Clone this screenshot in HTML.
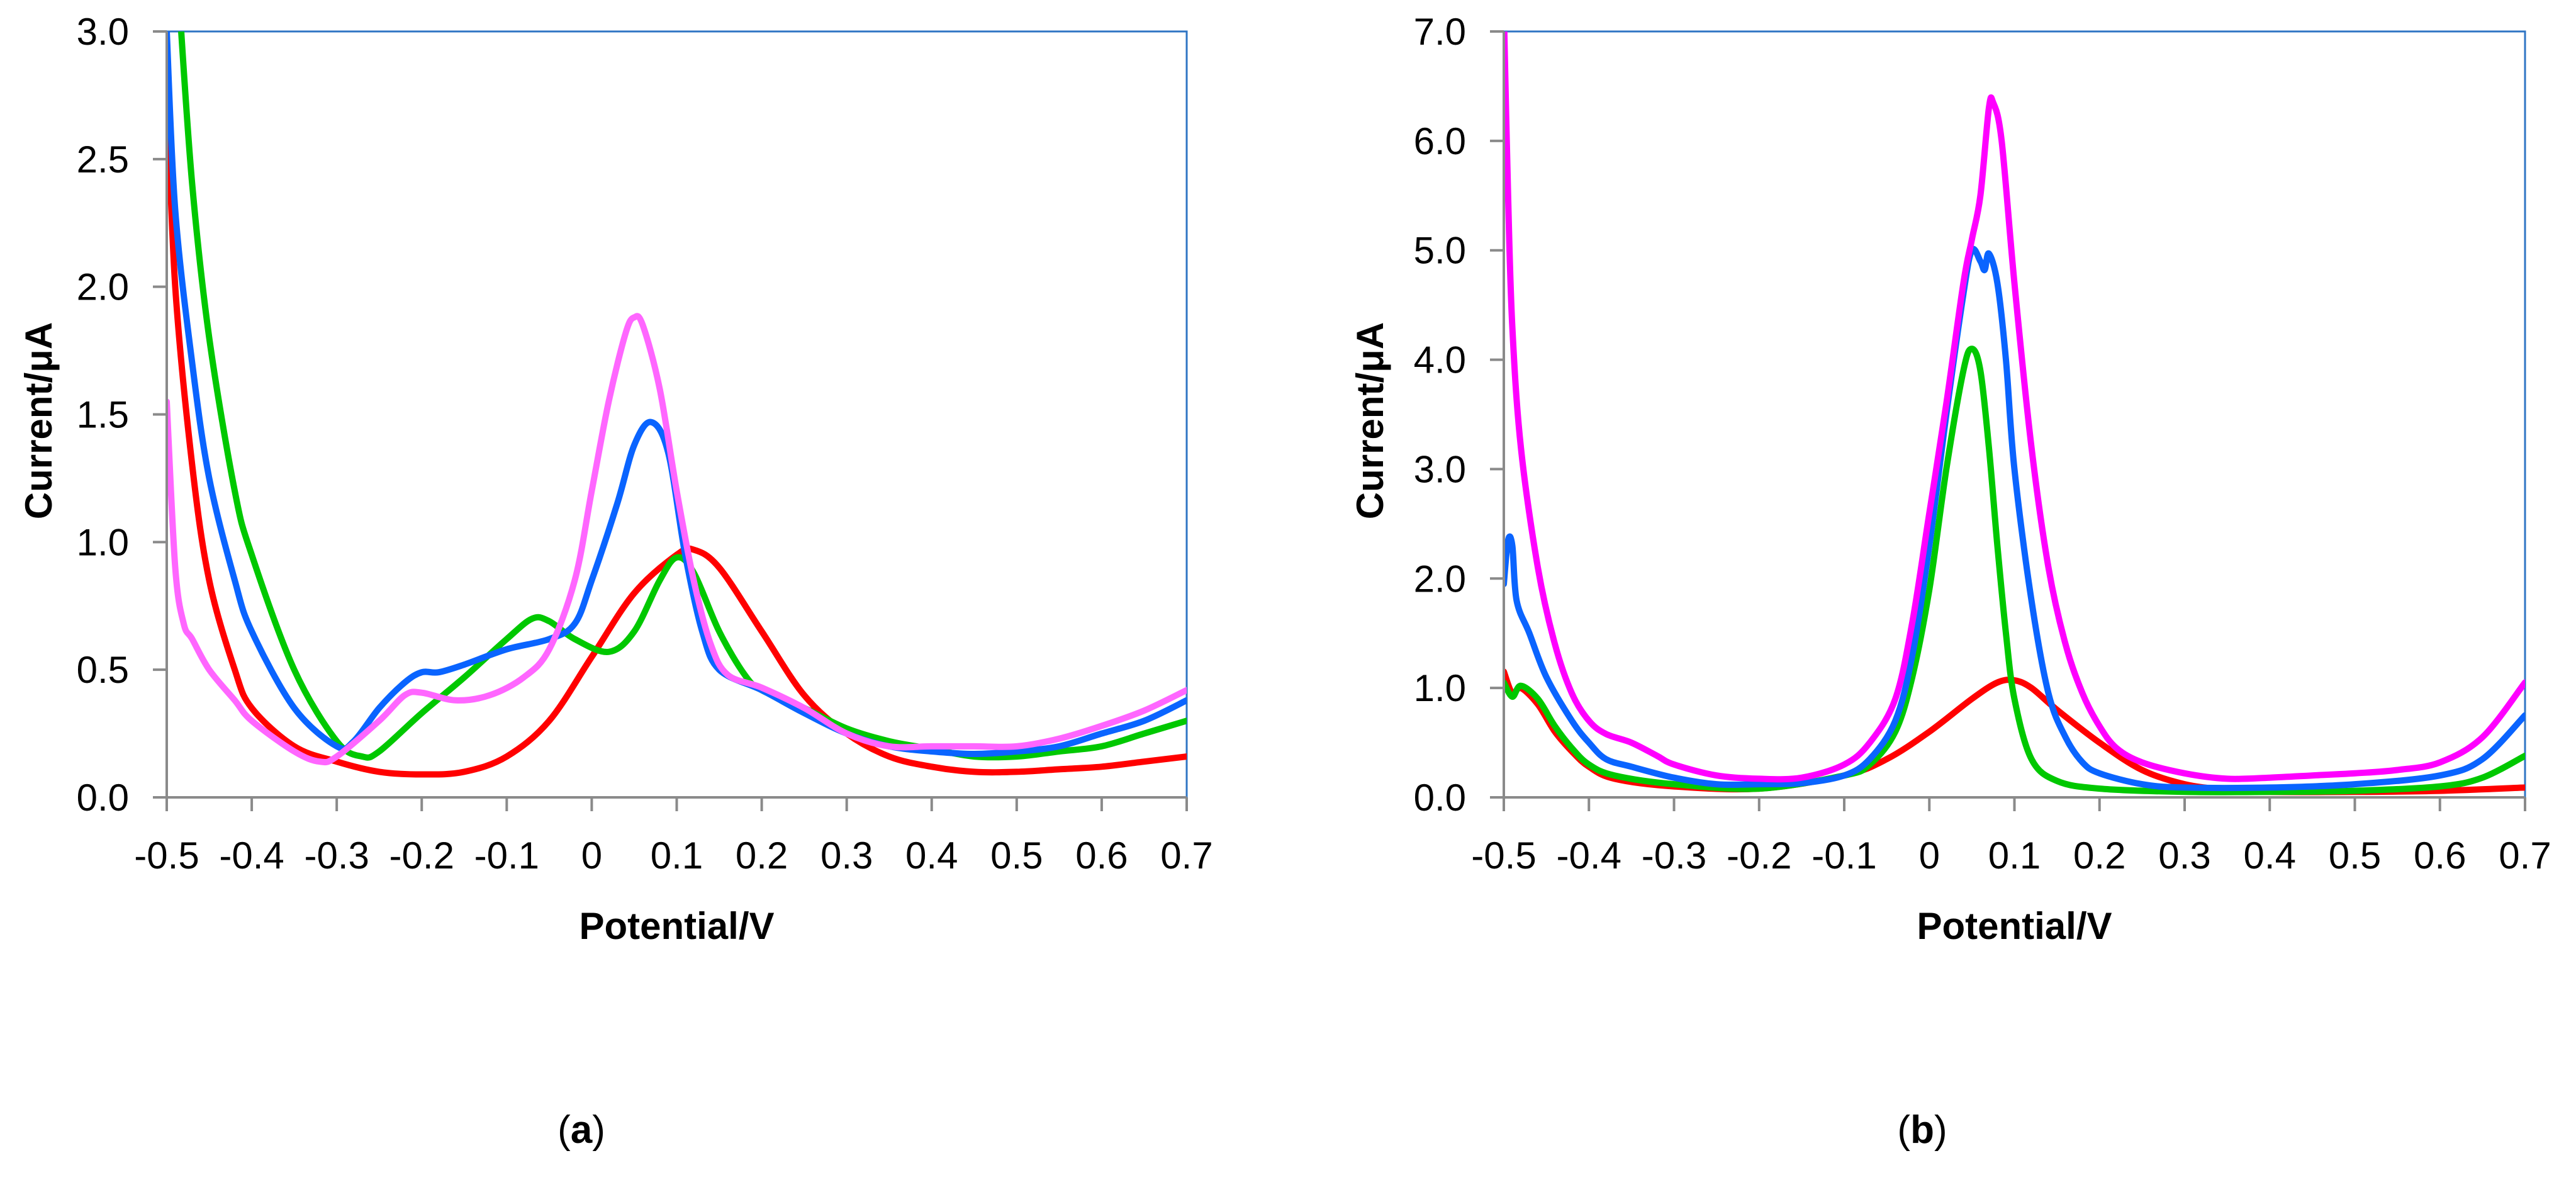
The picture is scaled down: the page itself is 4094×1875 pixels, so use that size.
<!DOCTYPE html>
<html><head><meta charset="utf-8"><style>
html,body{margin:0;padding:0;background:#fff;}
svg{display:block;}
text{font-family:"Liberation Sans",sans-serif;}
</style></head><body>
<svg id="fig" width="4094" height="1875" viewBox="0 0 4094 1875" xmlns="http://www.w3.org/2000/svg">
<defs>
<clipPath id="clipA"><rect x="265" y="50" width="1621" height="1217"/></clipPath>
<clipPath id="clipB"><rect x="2390" y="50" width="1623" height="1217"/></clipPath>
</defs>
<g id="chartA"></g>
<g id="chartB"></g>
<text x="924" y="1816" font-family="Liberation Serif" font-size="62" text-anchor="middle">(<tspan font-weight="bold">a</tspan>)</text>
<text x="3055" y="1816" font-family="Liberation Serif" font-size="62" text-anchor="middle">(<tspan font-weight="bold">b</tspan>)</text>
</svg>
<script>
const xTicks = [-0.5,-0.4,-0.3,-0.2,-0.1,0,0.1,0.2,0.3,0.4,0.5,0.6,0.7];
const xTickLabels = ["-0.5","-0.4","-0.3","-0.2","-0.1","0","0.1","0.2","0.3","0.4","0.5","0.6","0.7"];
const yTicksA = [0,0.5,1.0,1.5,2.0,2.5,3.0];
const yTickLabelsA = ["0.0","0.5","1.0","1.5","2.0","2.5","3.0"];
const yTicksB = [0,1,2,3,4,5,6,7];
const yTickLabelsB = ["0.0","1.0","2.0","3.0","4.0","5.0","6.0","7.0"];

const aRedX = [-0.5,-0.49,-0.47,-0.45,-0.42,-0.4,-0.35,-0.3,-0.25,-0.2,-0.15,-0.1,-0.05,0,0.05,0.1,0.12,0.15,0.2,0.25,0.3,0.35,0.4,0.45,0.5,0.55,0.6,0.65,0.7];
const aRedY = [2.8,2.0,1.3,0.85,0.5,0.35,0.2,0.14,0.1,0.09,0.1,0.16,0.3,0.55,0.8,0.95,0.97,0.9,0.65,0.4,0.25,0.16,0.12,0.1,0.1,0.11,0.12,0.14,0.16];
const aBlueX = [-0.5,-0.49,-0.47,-0.45,-0.42,-0.4,-0.35,-0.3,-0.28,-0.25,-0.22,-0.2,-0.18,-0.15,-0.1,-0.05,-0.02,0,0.03,0.05,0.07,0.09,0.11,0.13,0.15,0.2,0.25,0.3,0.35,0.4,0.45,0.5,0.55,0.6,0.65,0.7];
const aBlueY = [3.0,2.3,1.7,1.25,0.85,0.65,0.35,0.2,0.22,0.35,0.45,0.49,0.49,0.52,0.58,0.62,0.68,0.85,1.15,1.38,1.47,1.35,0.95,0.65,0.5,0.42,0.33,0.25,0.2,0.18,0.17,0.18,0.2,0.25,0.3,0.38];
const aGreenX = [-0.485,-0.47,-0.45,-0.42,-0.4,-0.35,-0.3,-0.27,-0.25,-0.2,-0.15,-0.1,-0.07,-0.05,-0.02,0.02,0.05,0.08,0.1,0.12,0.15,0.18,0.2,0.25,0.3,0.35,0.4,0.45,0.5,0.55,0.6,0.65,0.7];
const aGreenY = [3.1,2.4,1.8,1.2,0.95,0.5,0.22,0.16,0.18,0.33,0.47,0.62,0.7,0.69,0.62,0.57,0.65,0.85,0.94,0.88,0.65,0.48,0.42,0.35,0.27,0.22,0.19,0.16,0.16,0.18,0.2,0.25,0.3];
const aPinkX = [-0.5,-0.49,-0.48,-0.47,-0.45,-0.42,-0.4,-0.35,-0.32,-0.3,-0.25,-0.22,-0.2,-0.16,-0.12,-0.08,-0.05,-0.02,0,0.02,0.04,0.05,0.06,0.08,0.1,0.12,0.14,0.16,0.2,0.25,0.3,0.35,0.4,0.45,0.5,0.55,0.6,0.65,0.7];
const aPinkY = [1.55,0.9,0.68,0.62,0.5,0.38,0.3,0.18,0.14,0.16,0.3,0.4,0.41,0.38,0.4,0.47,0.58,0.85,1.2,1.55,1.82,1.88,1.85,1.6,1.2,0.85,0.6,0.48,0.43,0.35,0.25,0.2,0.2,0.2,0.2,0.23,0.28,0.34,0.42];

const bMagX = [-0.5,-0.495,-0.49,-0.48,-0.46,-0.44,-0.42,-0.4,-0.38,-0.35,-0.32,-0.3,-0.25,-0.2,-0.15,-0.1,-0.07,-0.04,-0.02,0,0.02,0.04,0.05,0.06,0.07,0.075,0.085,0.1,0.12,0.14,0.16,0.18,0.2,0.22,0.25,0.3,0.35,0.4,0.45,0.5,0.55,0.6,0.65,0.7];
const bMagY = [7.2,5.5,4.3,3.2,2.1,1.4,0.95,0.7,0.58,0.5,0.38,0.3,0.2,0.17,0.18,0.3,0.5,0.9,1.6,2.6,3.6,4.7,5.1,5.5,6.3,6.35,6.0,4.7,3.2,2.1,1.4,0.95,0.65,0.45,0.32,0.22,0.17,0.18,0.2,0.22,0.25,0.32,0.55,1.05];
const bBlueX = [-0.5,-0.495,-0.49,-0.485,-0.47,-0.45,-0.42,-0.4,-0.38,-0.35,-0.3,-0.25,-0.2,-0.15,-0.1,-0.07,-0.04,-0.02,0,0.02,0.04,0.05,0.06,0.065,0.07,0.08,0.09,0.1,0.12,0.14,0.16,0.18,0.2,0.25,0.3,0.4,0.5,0.6,0.65,0.7];
const bBlueY = [1.95,2.35,2.3,1.8,1.5,1.1,0.7,0.5,0.35,0.28,0.18,0.12,0.12,0.13,0.2,0.35,0.7,1.3,2.3,3.5,4.6,5.0,4.9,4.82,4.97,4.7,4.0,3.0,1.8,0.95,0.55,0.32,0.22,0.12,0.09,0.09,0.12,0.2,0.35,0.75];
const bGreenX = [-0.5,-0.49,-0.48,-0.46,-0.44,-0.42,-0.4,-0.37,-0.3,-0.2,-0.1,-0.07,-0.04,-0.02,0,0.02,0.04,0.05,0.06,0.07,0.08,0.09,0.1,0.12,0.15,0.2,0.3,0.4,0.5,0.6,0.65,0.7];
const bGreenY = [1.05,0.92,1.02,0.9,0.65,0.45,0.3,0.2,0.12,0.08,0.2,0.3,0.6,1.1,1.9,3.0,3.9,4.1,3.9,3.2,2.3,1.5,0.9,0.35,0.15,0.08,0.05,0.05,0.06,0.1,0.18,0.38];
const bRedX = [-0.5,-0.49,-0.48,-0.46,-0.44,-0.42,-0.4,-0.37,-0.3,-0.2,-0.1,-0.05,0,0.05,0.08,0.1,0.12,0.15,0.2,0.25,0.3,0.35,0.4,0.5,0.6,0.7];
const bRedY = [1.15,0.95,1.0,0.85,0.6,0.42,0.28,0.17,0.1,0.08,0.2,0.35,0.6,0.9,1.05,1.07,1.0,0.8,0.5,0.25,0.12,0.07,0.05,0.05,0.06,0.09];

const NS = "http://www.w3.org/2000/svg";
function mk(parent, tag, attrs){const e=document.createElementNS(NS,tag);for(const k in attrs)e.setAttribute(k,attrs[k]);parent.appendChild(e);return e;}

function smoothPath(pts){
  let d="M"+pts[0][0].toFixed(1)+","+pts[0][1].toFixed(1);
  for(let i=0;i<pts.length-1;i++){
    const p0=pts[Math.max(i-1,0)],p1=pts[i],p2=pts[i+1],p3=pts[Math.min(i+2,pts.length-1)];
    const c1=[p1[0]+(p2[0]-p0[0])/6,p1[1]+(p2[1]-p0[1])/6];
    const c2=[p2[0]-(p3[0]-p1[0])/6,p2[1]-(p3[1]-p1[1])/6];
    d+=" C"+c1[0].toFixed(1)+","+c1[1].toFixed(1)+" "+c2[0].toFixed(1)+","+c2[1].toFixed(1)+" "+p2[0].toFixed(1)+","+p2[1].toFixed(1);
  }
  return d;
}

function drawChart(g, L, R, T, B, yMax, yTicks, yLabels, series, clipId, titleX){
  const sx=v=>L+(v+0.5)/1.2*(R-L);
  const sy=v=>B-v/yMax*(B-T);
  const frame=mk(g,"path",{d:`M${L},${T} H${R} V${B}`,fill:"none",stroke:"#2f75c4","stroke-width":3});
  
  
  const sg=mk(g,"g",{"clip-path":`url(#${clipId})`});
  
  
  series.forEach(s=>{
    const pts=s.x.map((xv,i)=>[sx(xv),sy(s.y[i])]);
    const p=mk(sg,"path",{d:smoothPath(pts),fill:"none",stroke:s.color,"stroke-width":10,"stroke-linejoin":"round","stroke-linecap":"round"});
    
    
  });
  const ax=mk(g,"path",{d:`M${L},${T} V${B} H${R}`,fill:"none",stroke:"#8a8a8a","stroke-width":4});
  
  
  yTicks.forEach((v,i)=>{
    const y=sy(v);
    const t=mk(g,"line",{x1:L-22,x2:L,y1:y,y2:y,stroke:"#8a8a8a","stroke-width":4});
    
    
    const tx=mk(g,"text",{x:L-60,y:y+21,"font-size":60,"text-anchor":"end"});
    tx.textContent=yLabels[i];
    
    
  });
  xTicks.forEach((v,i)=>{
    const x=sx(v);
    const t=mk(g,"line",{x1:x,x2:x,y1:B,y2:B+22,stroke:"#8a8a8a","stroke-width":4});
    
    
    const tx=mk(g,"text",{x:x,y:B+113,"font-size":60,"text-anchor":"middle"});
    tx.textContent=xTickLabels[i];
    
    
  });
  const xt=mk(g,"text",{x:(L+R)/2,y:B+225,"font-size":60,"font-weight":"bold","text-anchor":"middle"});
  xt.textContent="Potential/V";
  
  
  const yt=mk(g,"text",{x:0,y:0,"font-size":60,"font-weight":"bold","text-anchor":"middle",transform:`translate(${titleX},${(T+B)/2+10}) rotate(-90)`});
  yt.textContent="Current/μA";
  
  
}

drawChart(document.getElementById("chartA"),265,1886,50,1267,3,yTicksA,yTickLabelsA,[
  {x:aRedX,y:aRedY,color:"#ff0000",name:"series-red-a"},
  {x:aGreenX,y:aGreenY,color:"#00c800",name:"series-green-a"},
  {x:aBlueX,y:aBlueY,color:"#0a64ff",name:"series-blue-a"},
  {x:aPinkX,y:aPinkY,color:"#ff66ff",name:"series-pink-a"}
],"clipA",82);
drawChart(document.getElementById("chartB"),2390,4013,50,1267,7,yTicksB,yTickLabelsB,[
  {x:bRedX,y:bRedY,color:"#ff0000",name:"series-red-b"},
  {x:bGreenX,y:bGreenY,color:"#00c800",name:"series-green-b"},
  {x:bBlueX,y:bBlueY,color:"#0a64ff",name:"series-blue-b"},
  {x:bMagX,y:bMagY,color:"#ff00ff",name:"series-magenta-b"}
],"clipB",2198);
</script>
</body></html>
